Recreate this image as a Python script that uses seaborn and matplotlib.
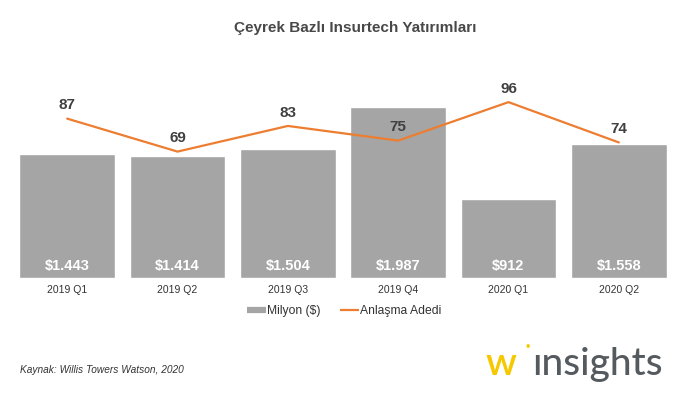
import matplotlib
matplotlib.use("Agg")
import matplotlib.pyplot as plt
import seaborn as sns
import pandas as pd
from matplotlib.lines import Line2D

quarters = ["2019 Q1", "2019 Q2", "2019 Q3", "2019 Q4", "2020 Q1", "2020 Q2"]
investment = [1443, 1414, 1504, 1987, 912, 1558]
invest_labels = ["$1.443", "$1.414", "$1.504", "$1.987", "$912", "$1.558"]
deals = [87, 69, 83, 75, 96, 74]

sns.set_style("white")
plt.rcParams['font.family'] = ['Liberation Sans', 'DejaVu Sans']

df = pd.DataFrame({"q": quarters, "inv": investment, "deals": deals, "x": range(len(quarters))})

fig = plt.figure(figsize=(6.85, 3.99), dpi=100)
ax = fig.add_axes([12/685, 121/399, 662/685, 218/399])
sns.barplot(data=df, x="q", y="inv", color="#A5A5A5", saturation=1, width=0.87, ax=ax)
ax.set_xlim(-0.5, 5.5)
ax.set_ylim(0, 2532)
for i, lab in enumerate(invest_labels):
    ax.text(i, 62, lab, ha="center", va="bottom", color="white", fontsize=10.5, fontweight="bold")
ax.set_xlabel("")
ax.set_ylabel("")
ax.set_yticks([])
ax.tick_params(axis="x", length=0, labelsize=7.5, colors="#333333", pad=5)
for s in ax.spines.values():
    s.set_visible(False)

ax2 = ax.twinx()
sns.lineplot(data=df, x="x", y="deals", color="#ED7D31", linewidth=1.6, ax=ax2)
ax2.set_xlim(-0.5, 5.5)
ax2.set_ylim(0, 119)
ax2.set_yticks([])
ax2.set_ylabel("")
for s in ax2.spines.values():
    s.set_visible(False)
for i, d in enumerate(deals):
    ax2.annotate(str(d), (i, d), xytext=(0, 4.5), textcoords="offset points",
                 ha="center", va="bottom", fontsize=11, fontweight="bold", color="#404040")

handles = [Line2D([0], [0], color="#A5A5A5", lw=4.5, solid_capstyle="butt"),
           Line2D([0], [0], color="#ED7D31", lw=1.6, solid_capstyle="butt")]
fig.legend(handles, ["Milyon ($)", "Anlaşma Adedi"], loc="center", bbox_to_anchor=(344/685, 1 - 311/399),
           ncol=2, frameon=False, fontsize=8.7, handlelength=1.6, handletextpad=0.05, columnspacing=1.6,
           labelcolor="#333333")

fig.text(355/685, 1 - 28/399, "Çeyrek Bazlı Insurtech Yatırımları", ha="center", va="center",
         fontsize=11, fontweight="bold", color="#484848")
fig.text(20/685, 1 - 370/399, "Kaynak: Willis Towers Watson, 2020", ha="left", va="center",
         fontsize=7.3, style="italic", color="#333333")

fig.text(486/685, 1 - 375/399, "w", ha="left", va="baseline", fontsize=28, color="#F5C800",
         family="Lato", fontweight="semibold")
fig.text(528/685, 1 - 348/399, "•", ha="center", va="center", fontsize=9, color="#F5C800")
fig.text(532/685, 1 - 375/399, "ınsights", ha="left", va="baseline", fontsize=28, color="#555A5F",
         family="Lato", fontweight="medium")

fig.savefig("out.png", dpi=100)
